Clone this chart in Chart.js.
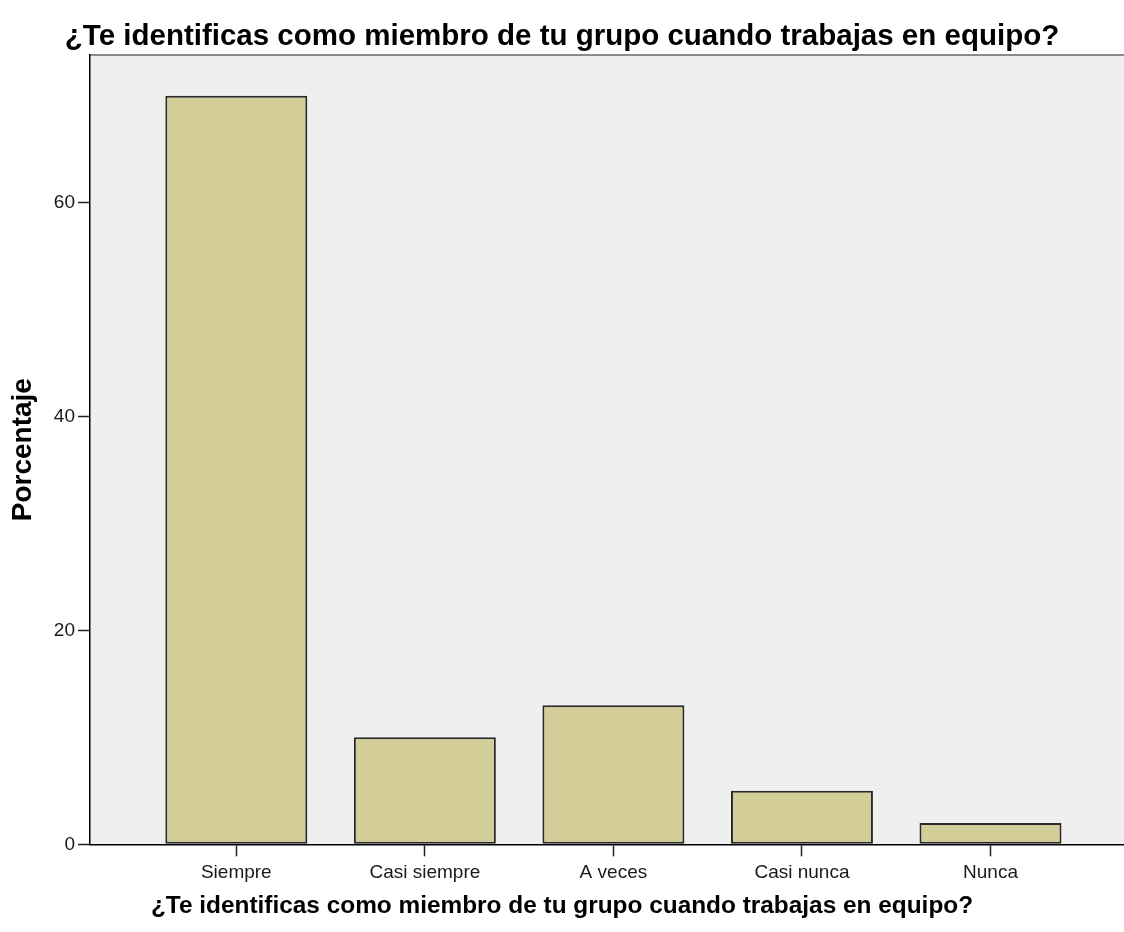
<!DOCTYPE html>
<html>
<head>
<meta charset="utf-8">
<script src="https://cdn.jsdelivr.net/npm/chart.js@4.4.1/dist/chart.umd.min.js"></script>
<style>
  html, body { margin: 0; padding: 0; background: #ffffff; }
  #wrap { width: 1124px; height: 932px; }
</style>
</head>
<body>
<div id="wrap"><canvas id="c" width="1124" height="932"></canvas></div>
<script>
const categories = ['Siempre', 'Casi siempre', 'A veces', 'Casi nunca', 'Nunca'];
const percentages = [70, 10, 13, 5, 2];
const yTickValues = [0, 20, 40, 60];
const chartTitle = '¿Te identificas como miembro de tu grupo cuando trabajas en equipo?';
const xAxisTitle = '¿Te identificas como miembro de tu grupo cuando trabajas en equipo?';
const yAxisTitle = 'Porcentaje';

const FONT = '"Liberation Sans", Arial, sans-serif';

const plotBackground = {
  id: 'plotBackground',
  beforeDraw(chart) {
    const { ctx, chartArea: a } = chart;
    ctx.save();
    ctx.fillStyle = '#efefef';
    ctx.fillRect(a.left, a.top, a.right - a.left, a.bottom - a.top);
    ctx.strokeStyle = '#8a8a8a';
    ctx.lineWidth = 2;
    ctx.beginPath();
    ctx.moveTo(a.left, a.top);
    ctx.lineTo(a.right, a.top);
    ctx.stroke();
    ctx.restore();
  }
};

new Chart(document.getElementById('c'), {
  type: 'bar',
  data: {
    datasets: [{
      label: yAxisTitle,
      data: categories.map((c, i) => ({ x: i, y: percentages[i] })),
      backgroundColor: '#d3ce97',
      borderColor: '#2a2a2a',
      borderWidth: 2,
      borderSkipped: false,
      barPercentage: 0.753,
      categoryPercentage: 1.0
    }]
  },
  options: {
    responsive: false,
    animation: false,
    layout: { padding: 0 },
    plugins: {
      legend: { display: false },
      tooltip: { enabled: false },
      title: {
        display: true,
        text: chartTitle,
        color: '#000000',
        font: { family: FONT, size: 29.5, weight: 'bold', lineHeight: 1.2 },
        padding: { top: 19.3, bottom: 0.3 }
      },
      subtitle: {
        display: true,
        position: 'bottom',
        text: xAxisTitle,
        color: '#000000',
        font: { family: FONT, size: 24.4, weight: 'bold', lineHeight: 1.2 },
        padding: { top: 4, bottom: 11 }
      }
    },
    scales: {
      x: {
        type: 'linear',
        min: -0.776,
        max: 4.708,
        offset: false,
        grid: {
          display: true,
          offset: false,
          drawOnChartArea: false,
          drawTicks: true,
          tickLength: 12,
          tickColor: '#222222',
          tickWidth: 1.5
        },
        border: { display: true, color: '#000000', width: 1.5 },
        ticks: {
          color: '#1a1a1a',
          font: { family: FONT, size: 19 },
          padding: 5,
          maxRotation: 0,
          autoSkip: false,
          callback: (v) => categories[v]
        },
        afterBuildTicks: (scale) => { scale.ticks = categories.map((c, i) => ({ value: i })); },
        afterFit: (scale) => { scale.height = 43.4; }
      },
      y: {
        type: 'linear',
        min: 0,
        max: 73.8,
        grid: {
          display: true,
          drawOnChartArea: false,
          drawTicks: true,
          tickLength: 12,
          tickColor: '#222222',
          tickWidth: 1.5
        },
        border: { display: true, color: '#000000', width: 1.5 },
        ticks: {
          color: '#1a1a1a',
          font: { family: FONT, size: 19 },
          padding: 3
        },
        afterBuildTicks: (scale) => { scale.ticks = yTickValues.map(v => ({ value: v })); },
        afterFit: (scale) => { scale.width = 90; },
        title: {
          display: true,
          text: yAxisTitle,
          color: '#000000',
          font: { family: FONT, size: 28, weight: 'bold', lineHeight: 1.2 },
          padding: { top: 6, bottom: 0 }
        }
      }
    }
  },
  plugins: [plotBackground]
});
</script>
</body>
</html>
